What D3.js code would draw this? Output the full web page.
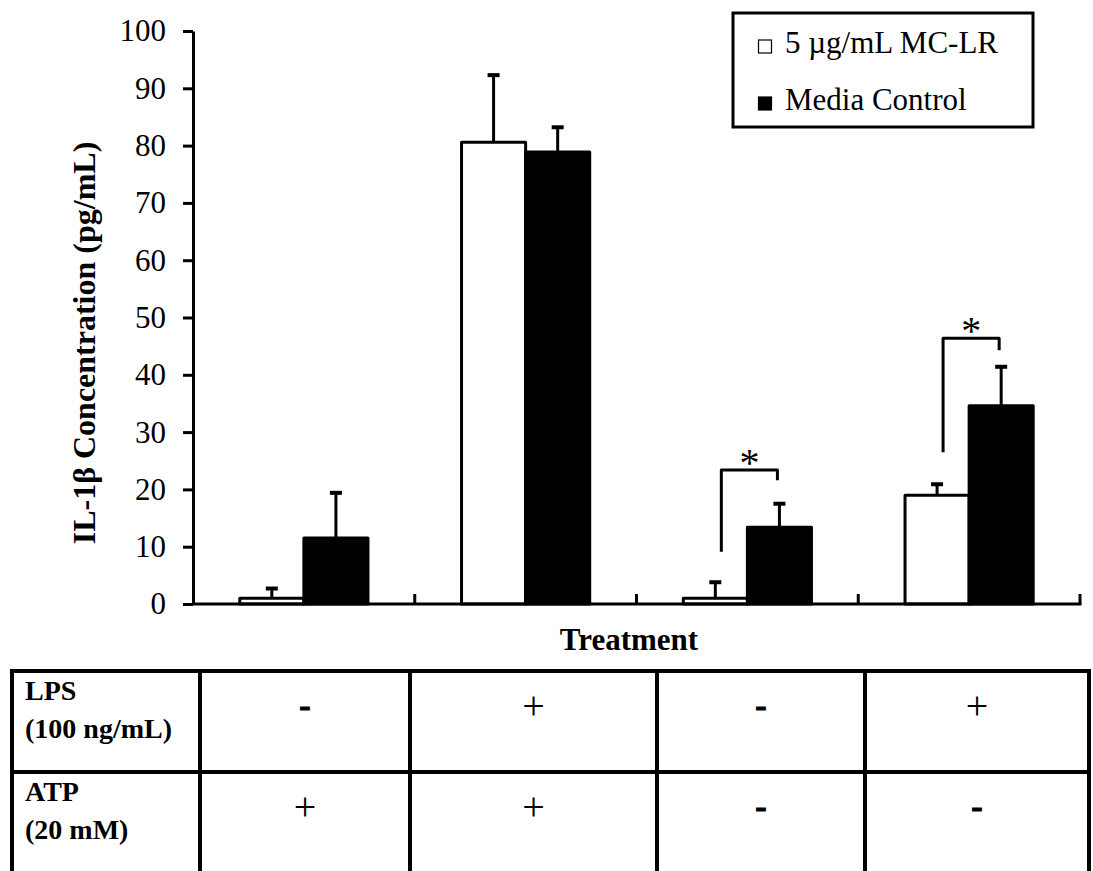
<!DOCTYPE html>
<html>
<head>
<meta charset="utf-8">
<script src="https://cdn.jsdelivr.net/npm/d3@7/dist/d3.min.js"></script>
<style>
  html, body { margin: 0; padding: 0; background: #fff; }
  svg { display: block; }
  text { font-family: "Liberation Serif", "Times New Roman", serif; fill: #000; }
</style>
</head>
<body>
<svg id="chart" width="1093" height="871"></svg>
<script>
// Treatment groups (columns of the condition table below the chart)
const groups = ["g1", "g2", "g3", "g4"];
const lpsRow = ["-", "+", "-", "+"];
const atpRow = ["+", "+", "-", "-"];

// IL-1β means and upper error (SD) in pg/mL
const seriesNames = ["5 µg/mL MC-LR", "Media Control"];
const mcValues = [1.0, 80.6, 1.0, 19.0];
const mcErrors = [1.7, 11.7, 2.8, 1.9];
const ctrlValues = [11.5, 78.9, 13.4, 34.6];
const ctrlErrors = [7.9, 4.3, 4.1, 6.8];

const yTickValues = [0, 10, 20, 30, 40, 50, 60, 70, 80, 90, 100];

// Significance brackets: group index and bracket heights (left leg, top, right leg)
const sigGroups = [2, 3];
const sigLeft = [9.1, 26.5];
const sigTop = [23.4, 46.4];
const sigRight = [21.6, 44.3];

const svg = d3.select("#chart");
const FONT = 31;

const x0 = d3.scaleBand().domain(groups).range([193, 1080]).paddingInner(0).paddingOuter(0);
const x1 = d3.scaleBand().domain(seriesNames).range([0, x0.bandwidth()]).paddingInner(0).paddingOuter(0.73);
const y = d3.scaleLinear().domain([0, 100]).range([604, 31]);

const rows = groups.map((g, i) => [
  { g, s: seriesNames[0], v: mcValues[i], e: mcErrors[i], fill: "#fff" },
  { g, s: seriesNames[1], v: ctrlValues[i], e: ctrlErrors[i], fill: "#000" }
]).flat();

// Error bars (drawn first so bar outlines sit on top)
const err = svg.append("g");
err.selectAll("line.stem").data(rows).join("line")
  .attr("class", "stem")
  .attr("x1", d => x0(d.g) + x1(d.s) + x1.bandwidth() / 2)
  .attr("x2", d => x0(d.g) + x1(d.s) + x1.bandwidth() / 2)
  .attr("y1", d => y(d.v))
  .attr("y2", d => y(d.v + d.e))
  .attr("stroke", "#000").attr("stroke-width", 3);
err.selectAll("line.cap").data(rows).join("line")
  .attr("class", "cap")
  .attr("x1", d => x0(d.g) + x1(d.s) + x1.bandwidth() / 2 - 6)
  .attr("x2", d => x0(d.g) + x1(d.s) + x1.bandwidth() / 2 + 6)
  .attr("y1", d => y(d.v + d.e))
  .attr("y2", d => y(d.v + d.e))
  .attr("stroke", "#000").attr("stroke-width", 4);

// Bars
svg.append("g").selectAll("rect").data(rows).join("rect")
  .attr("x", d => x0(d.g) + x1(d.s))
  .attr("y", d => y(d.v))
  .attr("width", x1.bandwidth())
  .attr("height", d => y(0) - y(d.v))
  .attr("fill", d => d.fill)
  .attr("stroke", "#000")
  .attr("stroke-width", 3)
  .attr("stroke-linejoin", "round");

// Y axis
const yAxis = svg.append("g")
  .attr("transform", "translate(193,0)")
  .call(d3.axisLeft(y).tickValues(yTickValues).tickSize(10).tickSizeOuter(0).tickPadding(17));
yAxis.select(".domain").attr("stroke", "#000").attr("stroke-width", 3);
yAxis.selectAll(".tick line").attr("stroke", "#000").attr("stroke-width", 3);
yAxis.selectAll(".tick text")
  .attr("font-family", "Liberation Serif, Times New Roman, serif")
  .attr("font-size", FONT).attr("fill", "#000");

// X axis baseline with small inward ticks at group boundaries
const xAxis = svg.append("g").attr("transform", `translate(0,${y(0)})`);
xAxis.append("line")
  .attr("x1", 193).attr("x2", x0.range()[1] + 1.5)
  .attr("stroke", "#000").attr("stroke-width", 3);
xAxis.selectAll("line.tick").data(groups).join("line")
  .attr("class", "tick")
  .attr("x1", g => x0(g) + x0.bandwidth())
  .attr("x2", g => x0(g) + x0.bandwidth())
  .attr("y1", 0).attr("y2", -10)
  .attr("stroke", "#000").attr("stroke-width", 3);

// Axis titles
svg.append("text")
  .attr("transform", `translate(95,343) rotate(-90)`)
  .attr("text-anchor", "middle")
  .attr("font-size", 32).attr("font-weight", "bold")
  .text("IL-1β Concentration (pg/mL)");
svg.append("text")
  .attr("x", 629).attr("y", 650)
  .attr("text-anchor", "middle")
  .attr("font-size", 31).attr("font-weight", "bold")
  .text("Treatment");

// Significance brackets
const cx = (gi, si) => x0(groups[gi]) + x1(seriesNames[si]) + x1.bandwidth() / 2;
const sig = svg.append("g");
sigGroups.forEach((gi, k) => {
  const xl = cx(gi, 0) + 6, xr = cx(gi, 1) - 2;
  sig.append("path")
    .attr("d", `M${xl},${y(sigLeft[k])} V${y(sigTop[k])} H${xr} V${y(sigRight[k])}`)
    .attr("fill", "none").attr("stroke", "#000").attr("stroke-width", 3)
    .attr("stroke-linejoin", "round");
  sig.append("text")
    .attr("x", (xl + xr) / 2).attr("y", y(sigTop[k]) + 6)
    .attr("text-anchor", "middle")
    .attr("font-size", 40)
    .text("*");
});

// Legend
const legend = svg.append("g");
legend.append("rect")
  .attr("x", 733).attr("y", 13).attr("width", 300).attr("height", 114)
  .attr("fill", "#fff").attr("stroke", "#000").attr("stroke-width", 3);
const legendFills = ["#fff", "#000"];
seriesNames.forEach((name, i) => {
  const base = 53 + i * 57;
  legend.append("rect")
    .attr("x", 758.5).attr("y", base - 13).attr("width", 13).attr("height", 13)
    .attr("fill", legendFills[i]).attr("stroke", "#000").attr("stroke-width", 1.2);
  legend.append("text")
    .attr("x", 785).attr("y", base)
    .attr("font-size", FONT)
    .text(name);
});

// Condition table
const colEdges = [12, 200, 410, 657, 865, 1089];
const rowEdges = [671, 772];
const tableBottom = 875;
const table = svg.append("g");
table.selectAll("line.h").data(rowEdges).join("line")
  .attr("class", "h")
  .attr("x1", colEdges[0] - 2).attr("x2", colEdges[colEdges.length - 1] + 2)
  .attr("y1", d => d).attr("y2", d => d)
  .attr("stroke", "#000").attr("stroke-width", 4);
table.selectAll("line.v").data(colEdges).join("line")
  .attr("class", "v")
  .attr("x1", d => d).attr("x2", d => d)
  .attr("y1", rowEdges[0]).attr("y2", tableBottom)
  .attr("stroke", "#000").attr("stroke-width", 4);

const rowLabels = [["LPS", "(100 ng/mL)"], ["ATP", "(20 mM)"]];
const rowSymbols = [lpsRow, atpRow];
rowLabels.forEach((lines, r) => {
  const top = rowEdges[r];
  const t = table.append("text")
    .attr("font-size", 28).attr("font-weight", "bold");
  lines.forEach((ln, j) => {
    t.append("tspan").attr("x", 25).attr("y", top + 29 + j * 38).text(ln);
  });
  rowSymbols[r].forEach((sym, c) => {
    const isMinus = sym === "-";
    table.append("text")
      .attr("x", (colEdges[c + 1] + colEdges[c + 2]) / 2)
      .attr("y", top + (isMinus ? 46 : 48))
      .attr("text-anchor", "middle")
      .attr("font-size", isMinus ? 34 : 40)
      .attr("font-weight", isMinus ? "bold" : "normal")
      .attr("stroke", isMinus ? "#000" : "none")
      .attr("stroke-width", isMinus ? 1 : 0)
      .text(sym);
  });
});
</script>
</body>
</html>
